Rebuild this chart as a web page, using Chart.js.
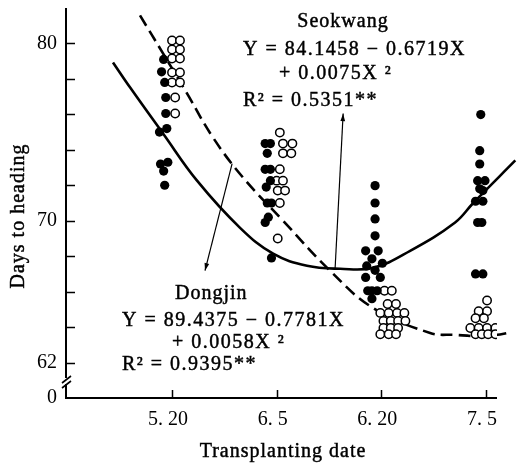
<!DOCTYPE html>
<html>
<head>
<meta charset="utf-8">
<script src="https://cdn.jsdelivr.net/npm/chart.js@4.4.0/dist/chart.umd.min.js"></script>
<style>
  body { margin: 0; background: #fff; }
  #wrap { width: 518px; height: 469px; }
</style>
</head>
<body>
<div id="wrap"><canvas id="heading" width="518" height="469"></canvas></div>
<script>
// transplanting dates on the x axis (index 0..3), tick values on the y axis
var dates = ['5. 20', '6. 5', '6. 20', '7. 5'],
    yTicks = [60, 62, 70, 80],
    yTickLabels = ['0', '62', '70', '80'];

// Seokwang (filled dots): [date index + jitter, days to heading]
var seokwangDots = [
    [-0.08, 79.1], [-0.10, 78.4], [-0.07, 77.8], [-0.06, 76.95], [-0.06, 76.05],
    [-0.12, 75.0], [-0.05, 75.2], [-0.11, 73.2], [-0.04, 73.3], [-0.08, 72.8], [-0.07, 72.0],
    [0.89, 74.35], [0.94, 74.35], [0.91, 73.8], [0.89, 72.9], [0.94, 72.9], [0.94, 72.26],
    [0.90, 71.9], [0.91, 71.0], [0.95, 71.0], [0.89, 69.9], [0.92, 70.2], [0.95, 67.9],
    [1.94, 71.98], [1.94, 71.0], [1.94, 70.1], [1.94, 69.15], [1.85, 68.3], [1.97, 68.3],
    [1.91, 67.85], [2.01, 67.6], [1.86, 67.45], [1.94, 67.2], [1.85, 66.8], [1.99, 66.8],
    [1.87, 66.05], [1.91, 66.05], [1.96, 66.05], [1.91, 65.6],
    [2.95, 75.99], [2.94, 73.95], [2.94, 73.2], [2.92, 72.26], [2.99, 72.26], [2.94, 71.8],
    [2.97, 71.7], [2.90, 71.1], [2.97, 71.1], [2.92, 69.9], [2.96, 69.9], [2.90, 67.0], [2.97, 67.0]
];

// Dongjin (open dots)
var dongjinDots = [
    [0.0, 80.17], [0.076, 80.17], [0.0, 79.66], [0.076, 79.66], [0.0, 79.15], [0.076, 79.15],
    [0.0, 78.36], [0.076, 78.36], [0.0, 77.8], [0.076, 77.8], [0.03, 76.95], [0.03, 76.05],
    [1.03, 74.97], [1.06, 74.35], [1.15, 74.35], [1.06, 73.8], [1.14, 73.8], [1.03, 72.9],
    [1.0, 72.26], [1.06, 72.26], [1.01, 71.7], [1.08, 71.7], [1.03, 71.0], [1.01, 69.0],
    [2.03, 66.05], [2.10, 66.05], [2.06, 65.3], [2.14, 65.3],
    [1.99, 64.8], [2.07, 64.8], [2.15, 64.8], [2.22, 64.8],
    [2.02, 64.35], [2.09, 64.35], [2.16, 64.35], [2.23, 64.35],
    [2.02, 63.95], [2.09, 63.95], [2.16, 63.95], [1.99, 63.6], [2.07, 63.6], [2.14, 63.6],
    [3.01, 65.5], [2.93, 64.9], [3.01, 64.9], [2.90, 64.5], [2.98, 64.5],
    [2.85, 63.95], [2.93, 63.95], [3.01, 63.95], [3.09, 63.95],
    [2.90, 63.6], [2.96, 63.6], [3.02, 63.6], [3.09, 63.6]
];

// fitted curves
var seokwangCurveX = [-0.564, -0.40, -0.086, 0.239, 0.65, 0.966, 1.29, 1.606, 1.92, 2.275, 2.705, 2.878, 3.28],
    seokwangCurveY = [78.93, 77.51, 74.92, 72.26, 69.6, 68.14, 67.46, 67.29, 67.34, 68.3, 69.9, 71.0, 73.4],
    dongjinCurveX = [-0.306, -0.086, 0.143, 0.392, 0.679, 1.061, 1.51, 1.92, 2.466, 2.705, 2.945, 3.203, 3.31],
    dongjinCurveY = [81.58, 79.44, 77.18, 74.69, 72.43, 70.0, 67.18, 65.08, 63.67, 63.56, 63.5, 63.67, 63.95];

var SERIF = '"Liberation Serif", "Times New Roman", serif';

function toPoints(pairs) {
    return pairs.map(function (p) { return {x: p[0], y: p[1]}; });
}

function zipPoints(xs, ys) {
    return xs.map(function (x, i) { return {x: x, y: ys[i]}; });
}

// scanned print looks a bit heavier than plain canvas text
function heavyText(ctx, s, x, y) {
    ctx.fillText(s, x, y);
    ctx.strokeText(s, x, y);
}

function arrow(ctx, x1, y1, x2, y2) {
    var ang = Math.atan2(y2 - y1, x2 - x1);
    ctx.beginPath();
    ctx.moveTo(x1, y1);
    ctx.lineTo(x2, y2);
    ctx.stroke();
    ctx.beginPath();
    ctx.moveTo(x2, y2);
    ctx.lineTo(x2 - 8 * Math.cos(ang - 0.3), y2 - 8 * Math.sin(ang - 0.3));
    ctx.lineTo(x2 - 8 * Math.cos(ang + 0.3), y2 - 8 * Math.sin(ang + 0.3));
    ctx.closePath();
    ctx.fill();
}

var frame = {
    id: 'frame',
    beforeDatasetsDraw: function (chart) {
        var ctx = chart.ctx, a = chart.chartArea,
            x = chart.scales.x, y = chart.scales.y, i, py, px;
        ctx.save();
        ctx.strokeStyle = '#000';
        ctx.lineWidth = 2;
        ctx.beginPath();
        ctx.moveTo(a.left, a.top);
        ctx.lineTo(a.left, a.bottom - 20);
        ctx.moveTo(a.left, a.bottom - 14);
        ctx.lineTo(a.left, a.bottom);
        ctx.lineTo(a.right, a.bottom);
        ctx.stroke();
        // axis break
        ctx.lineWidth = 1.6;
        ctx.beginPath();
        ctx.moveTo(a.left - 4, a.bottom - 15);
        ctx.lineTo(a.left + 5, a.bottom - 22);
        ctx.moveTo(a.left - 4, a.bottom - 10);
        ctx.lineTo(a.left + 5, a.bottom - 17);
        ctx.stroke();
        // inward ticks
        ctx.lineWidth = 1.5;
        ctx.beginPath();
        for (i = 62; i <= 80; i += 2) {
            py = Math.round(y.getPixelForValue(i)) + 0.5;
            ctx.moveTo(a.left, py);
            ctx.lineTo(a.left + 9, py);
        }
        for (i = 0; i < dates.length; i++) {
            px = Math.round(x.getPixelForValue(i)) + 0.5;
            ctx.moveTo(px, a.bottom);
            ctx.lineTo(px, a.bottom - 8);
        }
        ctx.stroke();
        ctx.restore();
    },
    afterDraw: function (chart) {
        var ctx = chart.ctx, x = chart.scales.x, y = chart.scales.y;
        ctx.save();
        ctx.fillStyle = '#000';
        ctx.strokeStyle = '#000';
        ctx.lineWidth = 0.45;
        ctx.textBaseline = 'alphabetic';
        ctx.font = '20px ' + SERIF;
        ctx.letterSpacing = '1px';

        // axis titles
        ctx.textAlign = 'center';
        heavyText(ctx, 'Transplanting date', 283, 457);
        ctx.save();
        ctx.translate(24, 216);
        ctx.rotate(-Math.PI / 2);
        heavyText(ctx, 'Days to heading', 0, 0);
        ctx.restore();

        // Seokwang label
        heavyText(ctx, 'Seokwang', 343, 27);
        ctx.textAlign = 'left';
        ctx.letterSpacing = '1.5px';
        heavyText(ctx, 'Y = 84.1458 \u2212 0.6719X', 243, 55);
        heavyText(ctx, '+ 0.0075X \u00b2', 279, 79);
        heavyText(ctx, 'R\u00b2 = 0.5351**', 243, 106);

        // Dongjin label
        ctx.letterSpacing = '1px';
        heavyText(ctx, 'Dongjin', 175, 299);
        ctx.letterSpacing = '1.5px';
        heavyText(ctx, 'Y = 89.4375 \u2212 0.7781X', 122, 326);
        heavyText(ctx, '+ 0.0058X \u00b2', 172, 348);
        heavyText(ctx, 'R\u00b2 = 0.9395**', 122, 370);

        // arrows from curves to their labels
        ctx.lineWidth = 1.2;
        arrow(ctx, x.getPixelForValue(1.558), y.getPixelForValue(67.29),
                   x.getPixelForValue(1.635), y.getPixelForValue(76.05));
        arrow(ctx, x.getPixelForValue(0.574), y.getPixelForValue(73.22),
                   x.getPixelForValue(0.315), y.getPixelForValue(67.18));
        ctx.restore();
    }
};

new Chart(document.getElementById('heading').getContext('2d'), {
    type: 'scatter',
    data: {
        datasets: [
            {
                label: 'Seokwang',
                data: toPoints(seokwangDots),
                backgroundColor: '#000',
                borderColor: '#000',
                borderWidth: 0,
                pointRadius: 4.6
            },
            {
                label: 'Dongjin',
                data: toPoints(dongjinDots),
                backgroundColor: '#fff',
                borderColor: '#000',
                borderWidth: 1.5,
                pointRadius: 4.2
            },
            {
                label: 'Seokwang fit',
                data: zipPoints(seokwangCurveX, seokwangCurveY),
                showLine: true,
                pointRadius: 0,
                borderColor: '#000',
                borderWidth: 2.6,
                tension: 0.4,
                clip: false
            },
            {
                label: 'Dongjin fit',
                data: zipPoints(dongjinCurveX, dongjinCurveY),
                showLine: true,
                pointRadius: 0,
                borderColor: '#000',
                borderWidth: 2.6,
                borderDash: [12, 6],
                tension: 0.4,
                clip: false
            }
        ]
    },
    options: {
        responsive: false,
        animation: false,
        layout: {padding: {top: 8, right: 21, left: 0, bottom: 0}},
        plugins: {legend: {display: false}, tooltip: {enabled: false}},
        scales: {
            x: {
                type: 'linear',
                min: -1.013,
                max: 3.105,
                grid: {display: false, drawTicks: false},
                border: {display: false},
                afterBuildTicks: function (scale) {
                    scale.ticks = dates.map(function (d, i) { return {value: i}; });
                },
                afterFit: function (scale) {
                    scale.height = 71;
                    scale.paddingLeft = 0;
                    scale.paddingRight = 0;
                },
                ticks: {
                    autoSkip: false,
                    maxRotation: 0,
                    padding: 10,
                    labelOffset: -4,
                    color: '#000',
                    font: {family: SERIF, size: 20},
                    callback: function (v) { return dates[v]; }
                }
            },
            y: {
                type: 'linear',
                min: 60,
                max: 82,
                grid: {display: false, drawTicks: false},
                border: {display: false},
                afterBuildTicks: function (scale) {
                    scale.ticks = yTicks.map(function (v) { return {value: v}; });
                },
                afterFit: function (scale) {
                    scale.width = 66;
                    scale.paddingTop = 0;
                    scale.paddingBottom = 0;
                },
                ticks: {
                    autoSkip: false,
                    padding: 9,
                    color: '#000',
                    font: {family: SERIF, size: 20},
                    callback: function (v) { return yTickLabels[yTicks.indexOf(v)]; }
                }
            }
        }
    },
    plugins: [frame]
});
</script>
</body>
</html>
